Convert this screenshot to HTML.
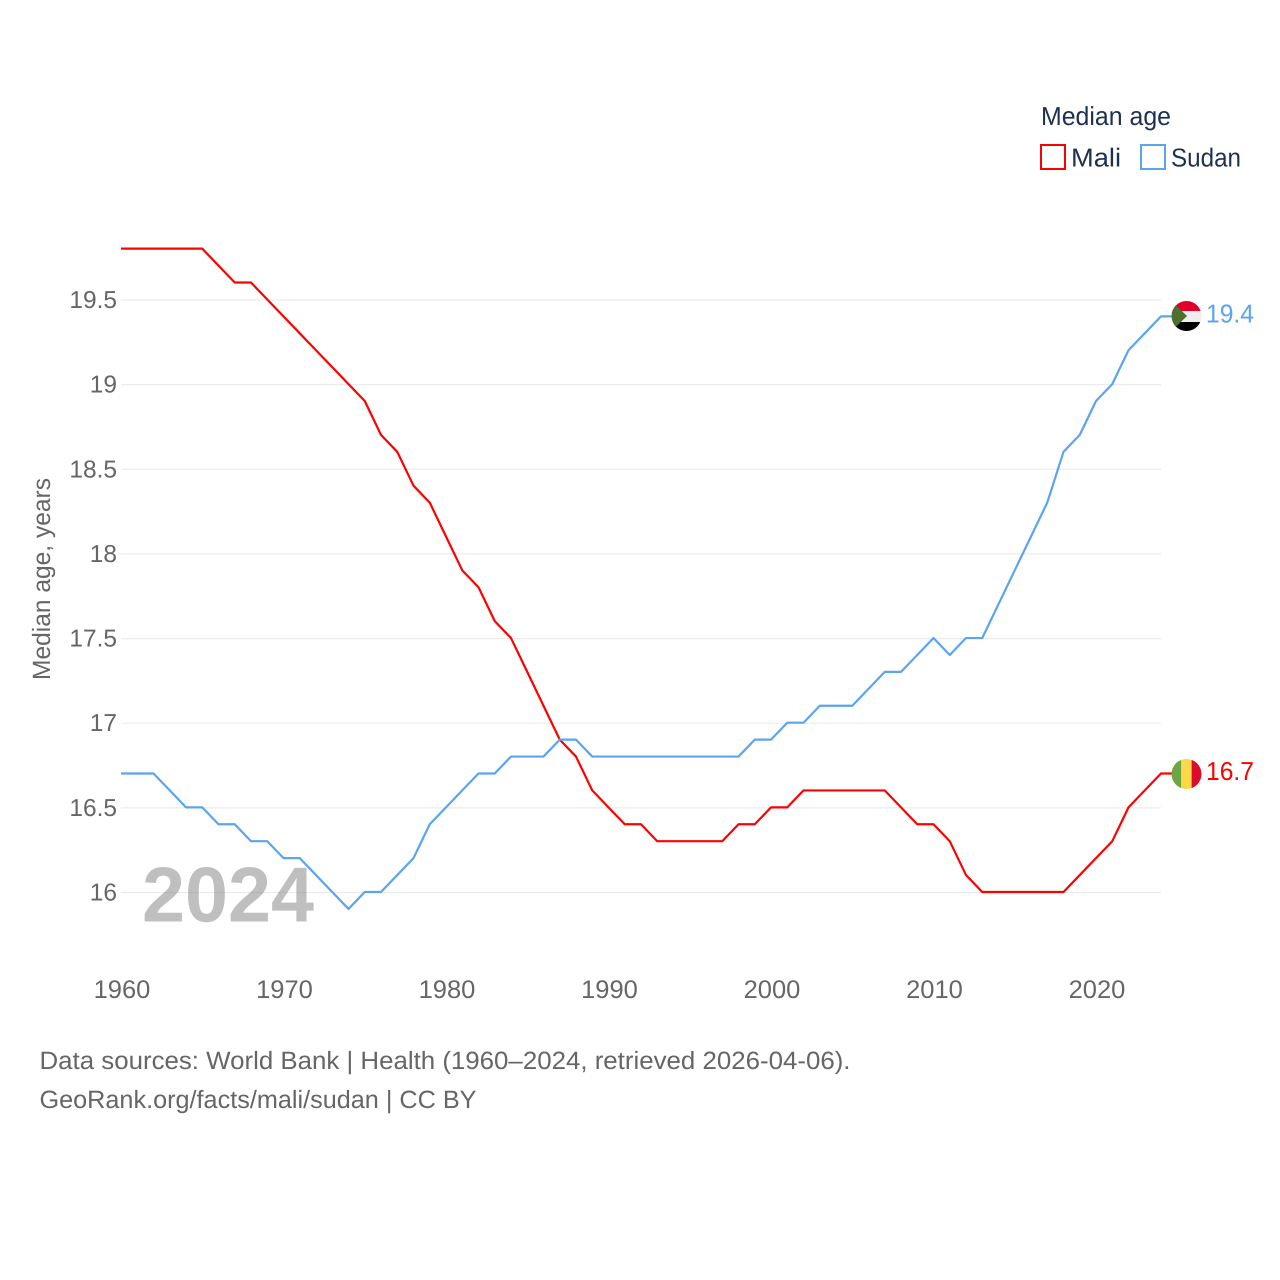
<!DOCTYPE html>
<html lang="en">
<head>
<meta charset="utf-8">
<title>Median age: Mali and Sudan</title>
<style>
html,body{margin:0;padding:0;background:#fff;}
svg{display:block;font-family:"Liberation Sans",Arial,sans-serif;text-rendering:geometricPrecision;}
</style>
</head>
<body>
<svg id="chart" xmlns="http://www.w3.org/2000/svg" width="1280" height="1280" viewBox="0 0 1280 1280">
  <rect width="1280" height="1280" fill="#fff"/>
  <defs>
    <clipPath id="flag-clip-top"><circle cx="1186.5" cy="316" r="15"/></clipPath>
    <clipPath id="flag-clip-bottom"><circle cx="1186.5" cy="774" r="15"/></clipPath>
  </defs>
  <g id="grid"></g>
  <g id="yticks"></g>
  <g id="xticks"></g>
  <text transform="translate(50,579) rotate(-90)" text-anchor="middle" font-size="25" fill="#666" textLength="202" lengthAdjust="spacingAndGlyphs">Median age, years</text>
  <text x="142" y="921.5" font-size="78" font-weight="700" fill="#808080" fill-opacity="0.5" textLength="172" lengthAdjust="spacingAndGlyphs">2024</text>
  <g id="series"></g>

  <g clip-path="url(#flag-clip-top)">
    <rect x="1171" y="301" width="31" height="10" fill="#e0002b"/>
    <rect x="1171" y="311" width="31" height="11" fill="#eeeeee"/>
    <rect x="1171" y="322" width="31" height="9" fill="#000"/>
    <polygon points="1171.5,301 1187,316 1171.5,331" fill="#4f6f2d"/>
  </g>
  <g clip-path="url(#flag-clip-bottom)">
    <rect x="1171" y="759" width="10.3" height="30" fill="#6ea544"/>
    <rect x="1181.3" y="759" width="10.3" height="30" fill="#fcd94a"/>
    <rect x="1191.6" y="759" width="10.4" height="30" fill="#dc0a2e"/>
  </g>
  <text id="label-sudan" x="1206" y="322.5" font-size="26" fill="#5ba4ee" textLength="48" lengthAdjust="spacingAndGlyphs">19.4</text>
  <text id="label-mali" x="1206" y="780" font-size="26" fill="#ff0000" textLength="48" lengthAdjust="spacingAndGlyphs">16.7</text>

  <g>
    <text x="1041" y="125" font-size="26" fill="#1d3050" textLength="130" lengthAdjust="spacingAndGlyphs">Median age</text>
    <g>
      <rect x="1041" y="145" width="24" height="24" fill="#fff" stroke="#ff0000" stroke-width="2"/>
      <text x="1071" y="166.5" font-size="26" fill="#1d3050" textLength="50" lengthAdjust="spacingAndGlyphs">Mali</text>
    </g>
    <g>
      <rect x="1141" y="145" width="24" height="24" fill="#fff" stroke="#5ba4ee" stroke-width="2"/>
      <text x="1171" y="166.5" font-size="26" fill="#1d3050" textLength="70" lengthAdjust="spacingAndGlyphs">Sudan</text>
    </g>
  </g>

  <text x="39.5" y="1069" font-size="25" fill="#666" textLength="811" lengthAdjust="spacingAndGlyphs">Data sources: World Bank | Health (1960–2024, retrieved 2026-04-06).</text>
  <text x="39.5" y="1108" font-size="25" fill="#666" textLength="437" lengthAdjust="spacingAndGlyphs">GeoRank.org/facts/mali/sudan | CC BY</text>
</svg>
<script>
const startYear = 1960;
const xTickLabels = [1960, 1970, 1980, 1990, 2000, 2010, 2020];
const yTickLabels = [16, 16.5, 17, 17.5, 18, 18.5, 19, 19.5];
const maliValues = [
  19.8,19.8,19.8,19.8,19.8,19.8,19.7,19.6,19.6,19.5,
  19.4,19.3,19.2,19.1,19.0,18.9,18.7,18.6,18.4,18.3,
  18.1,17.9,17.8,17.6,17.5,17.3,17.1,16.9,16.8,16.6,
  16.5,16.4,16.4,16.3,16.3,16.3,16.3,16.3,16.4,16.4,
  16.5,16.5,16.6,16.6,16.6,16.6,16.6,16.6,16.5,16.4,
  16.4,16.3,16.1,16.0,16.0,16.0,16.0,16.0,16.0,16.1,
  16.2,16.3,16.5,16.6,16.7
];
const sudanValues = [
  16.7,16.7,16.7,16.6,16.5,16.5,16.4,16.4,16.3,16.3,
  16.2,16.2,16.1,16.0,15.9,16.0,16.0,16.1,16.2,16.4,
  16.5,16.6,16.7,16.7,16.8,16.8,16.8,16.9,16.9,16.8,
  16.8,16.8,16.8,16.8,16.8,16.8,16.8,16.8,16.8,16.9,
  16.9,17.0,17.0,17.1,17.1,17.1,17.2,17.3,17.3,17.4,
  17.5,17.4,17.5,17.5,17.7,17.9,18.1,18.3,18.6,18.7,
  18.9,19.0,19.2,19.3,19.4
];

const NS = 'http://www.w3.org/2000/svg';
function xScale(year) { return 121 + (year - 1960) * 16.25; }
function yScale(value) { return 892.5 - (value - 16) * 169.3; }

const gridGroup = document.getElementById('grid');
const yGroup = document.getElementById('yticks');
const xGroup = document.getElementById('xticks');
const seriesGroup = document.getElementById('series');

yTickLabels.forEach(function (tick) {
  const y = yScale(tick);
  const line = document.createElementNS(NS, 'line');
  
  
  line.setAttribute('x1', 121);
  line.setAttribute('x2', 1161);
  line.setAttribute('y1', y);
  line.setAttribute('y2', y);
  line.setAttribute('stroke', '#ebebeb');
  line.setAttribute('stroke-width', 1.2);
  gridGroup.appendChild(line);

  const label = document.createElementNS(NS, 'text');
  
  
  label.setAttribute('x', 117);
  label.setAttribute('y', y + 8);
  label.setAttribute('text-anchor', 'end');
  label.setAttribute('font-size', 24.5);
  label.setAttribute('fill', '#666');
  label.textContent = String(tick);
  yGroup.appendChild(label);
});

xTickLabels.forEach(function (tick) {
  const label = document.createElementNS(NS, 'text');
  
  
  label.setAttribute('x', xScale(tick) + 1);
  label.setAttribute('y', 998);
  label.setAttribute('text-anchor', 'middle');
  label.setAttribute('font-size', 25.5);
  label.setAttribute('fill', '#666');
  label.textContent = String(tick);
  xGroup.appendChild(label);
});

function drawSeries(values, color, name) {
  const pts = values.map(function (v, i) {
    return xScale(startYear + i).toFixed(2) + ',' + (yScale(v) - 0.5).toFixed(2);
  });
  const last = values[values.length - 1];
  pts.push('1172,' + (yScale(last) - 0.5).toFixed(2));
  const line = document.createElementNS(NS, 'polyline');
  
  
  line.setAttribute('points', pts.join(' '));
  line.setAttribute('fill', 'none');
  line.setAttribute('stroke', color);
  line.setAttribute('stroke-width', 2.2);
  line.setAttribute('stroke-linejoin', 'round');
  seriesGroup.appendChild(line);
}
drawSeries(maliValues, '#ff0000', 'line-mali');
drawSeries(sudanValues, '#5ba4ee', 'line-sudan');

document.getElementById('label-sudan').textContent = String(sudanValues[sudanValues.length - 1]);
document.getElementById('label-mali').textContent = String(maliValues[maliValues.length - 1]);
</script>
</body>
</html>
